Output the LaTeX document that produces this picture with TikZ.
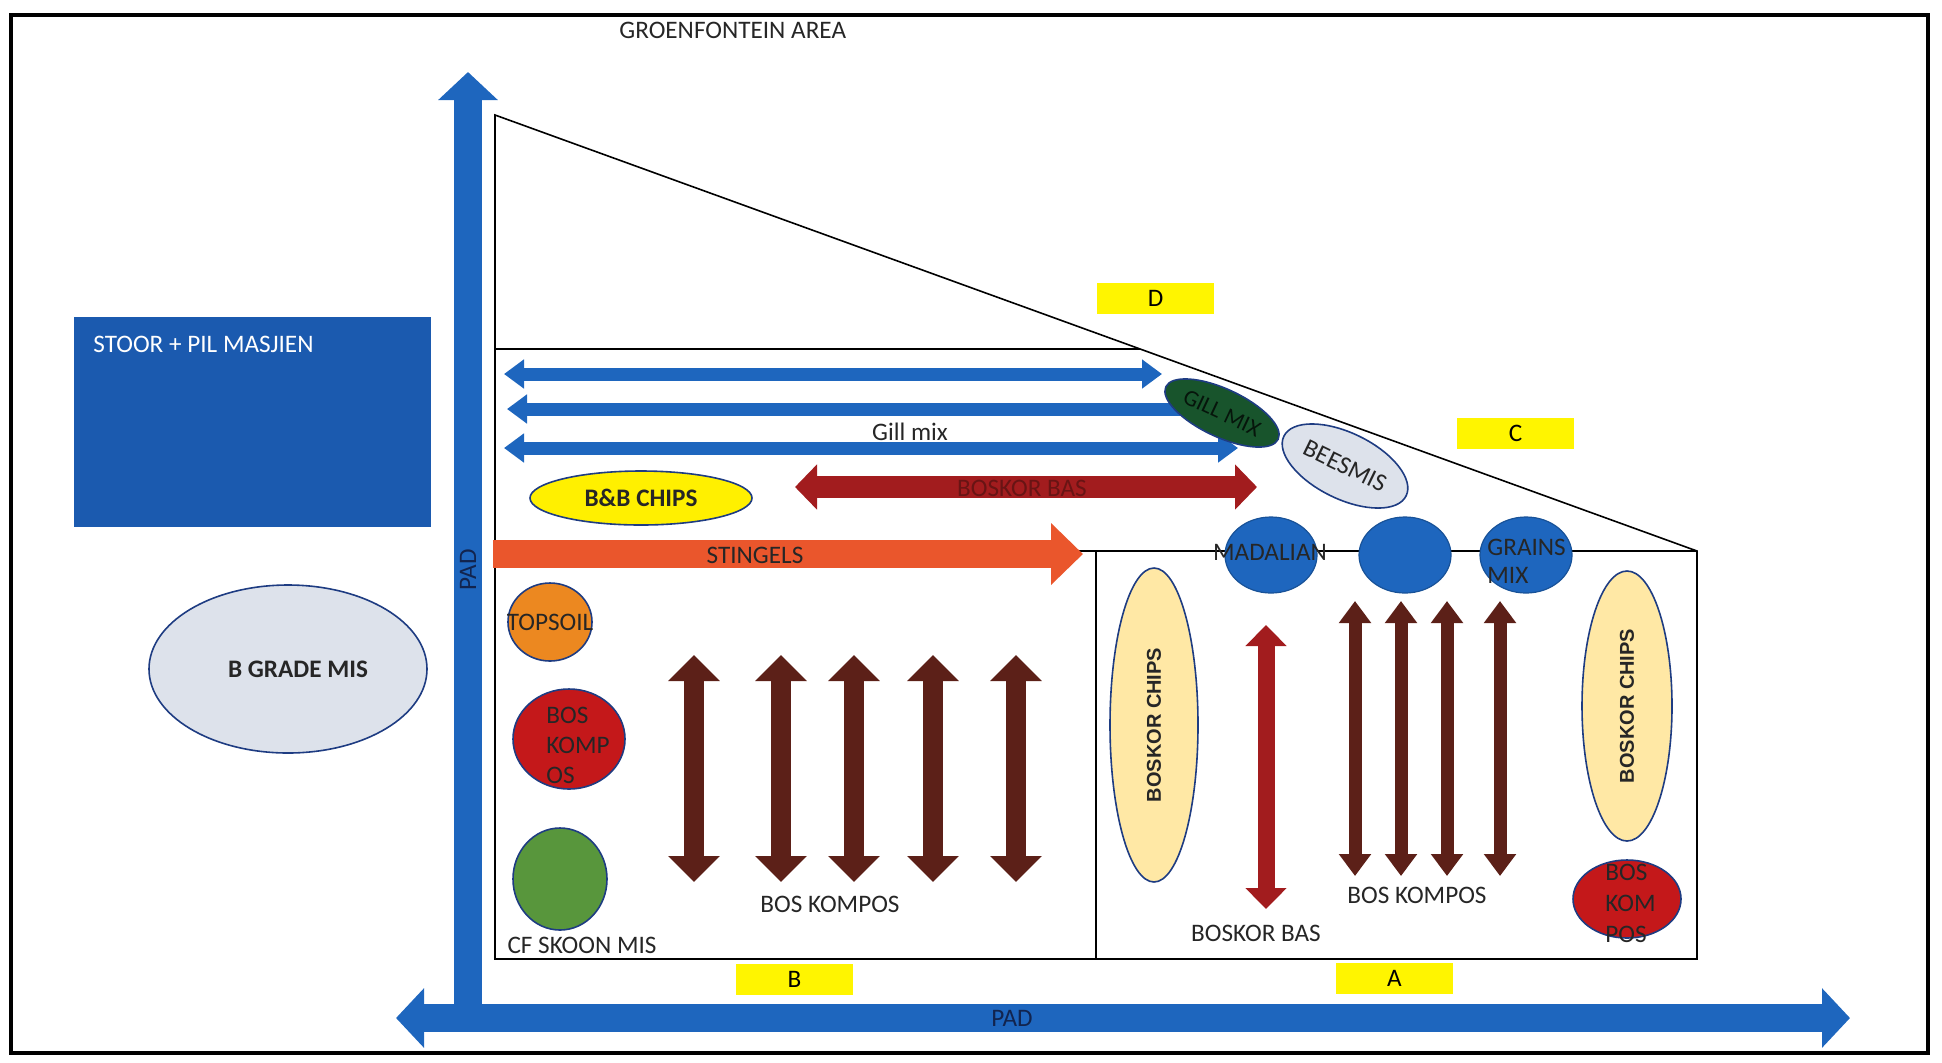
\documentclass[tikz,border=0pt]{standalone}
\usepackage{fontspec}
\setmainfont{Carlito}
\newfontfamily\chipsfont{Liberation Sans}
\usepackage{xcolor}
\usetikzlibrary{arrows.meta, shapes.geometric}

\definecolor{padblue}{RGB}{30,102,190}
\definecolor{stoorblue}{RGB}{27,90,175}
\definecolor{rimblue}{RGB}{30,60,130}
\definecolor{kompbrown}{RGB}{92,32,24}
\definecolor{basred}{RGB}{162,28,30}
\definecolor{basdark}{RGB}{105,20,20}
\definecolor{stingorange}{RGB}{234,86,44}
\definecolor{chipyellow}{RGB}{255,232,165}
\definecolor{bbyellow}{RGB}{255,240,0}
\definecolor{tagyellow}{RGB}{255,245,0}
\definecolor{misgray}{RGB}{221,226,235}
\definecolor{gillgreen}{RGB}{24,84,44}
\definecolor{skoongreen}{RGB}{88,150,60}
\definecolor{soilorange}{RGB}{236,136,32}
\definecolor{kompred}{RGB}{196,24,26}

\begin{document}
\begin{tikzpicture}[x=0.5pt, y=-0.5pt,
    lbl/.style={font=\fontsize{12.6}{15}\selectfont, inner sep=0pt, text=black!85},
    boldlbl/.style={lbl, font=\fontsize{12.6}{15}\selectfont\bfseries},
    chips/.style={text=black!85, font=\chipsfont\bfseries\fontsize{10}{12}\selectfont},
    heap/.style={ellipse, draw=rimblue, line width=0.8pt, inner sep=0pt},
    silo/.style={ellipse, fill=padblue, draw=padblue!80!black, line width=0.6pt, inner sep=0pt, minimum width=46pt, minimum height=38pt},
    tag/.style={fill=tagyellow, minimum width=58.5pt, minimum height=15.5pt, inner sep=0pt, font=\fontsize{12.6}{15}\selectfont},
    padtip/.tip={Triangle[width=29pt,length=14pt]},
    gilltip/.tip={Triangle[width=14pt,length=10pt]},
    bastip/.tip={Triangle[width=22pt,length=11pt]},
    stingtip/.tip={Triangle[width=30pt,length=16pt]},
    kbtip/.tip={Triangle[width=25pt,length=13pt]},
    katip/.tip={Triangle[width=15.5pt,length=11pt]},
    redtip/.tip={Triangle[width=20pt,length=10.5pt]},
    pad/.style={draw=padblue, line width=14pt},
    gill/.style={draw=padblue, line width=6.5pt},
    bas/.style={draw=basred, line width=11pt},
    sting/.style={draw=stingorange, line width=14pt},
    kompB/.style={draw=kompbrown, line width=10pt},
    kompA/.style={draw=kompbrown, line width=6.5pt},
    basA/.style={draw=basred, line width=8.5pt},
]
\useasboundingbox (0,0) rectangle (1942,1062);
\draw[line width=2pt] (11,15) rectangle (1928,1053);

\node[lbl, anchor=west] (area) at (619,30) {GROENFONTEIN AREA};

% stoor en B grade hoop
\node[fill=stoorblue, minimum width=178.5pt, minimum height=105pt, inner sep=0pt] (stoor) at (252.5,422) {};
\node[lbl, text=white, anchor=west] (stoortxt) at (93,344) {STOOR + PIL MASJIEN};
\node[heap, fill=misgray, minimum width=139pt, minimum height=84pt, boldlbl] (bgrade) at (288,669) {\hspace{10pt}B GRADE MIS};

% terrein
\draw[line width=0.8pt] (495,115) -- (1697,551) -- (1697,959) -- (495,959) -- cycle;
\draw[line width=0.8pt] (495,349) -- (1140,349);
\draw[line width=0.8pt] (495,551) -- (1697,551);
\draw[line width=0.8pt] (1096,551) -- (1096,959);

\node[tag] (tagD) at (1155.5,298.5) {D};
\node[tag] (tagC) at (1515.5,433) {C};
\node[tag] (tagB) at (794.5,979.5) {B};
\node[tag] (tagA) at (1394.5,978.5) {A};

% paaie
\coordinate (padN) at (468,72);
\coordinate (padS) at (468,1018);
\coordinate (padW) at (396,1018);
\coordinate (padE) at (1850,1018);
\draw[pad, -padtip] (padS) -- (padN);
\draw[pad, padtip-padtip] (padW) -- (padE);
\node[lbl, rotate=90, text=rimblue!60!black] (padV) at (468,570) {PAD};
\node[lbl, text=rimblue!60!black] (padH) at (1012,1018) {PAD};

% gill mix rye
\coordinate (g1w) at (504,374); \coordinate (g1e) at (1162,374);
\coordinate (g2w) at (507,409); \coordinate (g2e) at (1200,409);
\coordinate (g3w) at (504,448); \coordinate (g3e) at (1238,448);
\draw[gill, gilltip-gilltip] (g1w) -- (g1e);
\draw[gill, gilltip-] (g2w) -- (g2e);
\draw[gill, gilltip-gilltip] (g3w) -- (g3e);
\node[lbl] (gilltxt) at (910,432) {Gill mix};

\node[heap, fill=gillgreen, minimum width=62pt, minimum height=24pt, rotate=-25,
      font=\fontsize{11.5}{13}\selectfont, text=black!75!gillgreen] (gill) at (1222,413) {GILL MIX};
\node[heap, fill=misgray, minimum width=68pt, minimum height=33pt, rotate=-26,
      lbl] (bees) at (1345,466) {BEESMIS};

\coordinate (bw) at (795,487); \coordinate (be) at (1257,487);
\draw[bas, bastip-bastip] (bw) -- (be);
\node[lbl, text=basdark] (bastxt) at (1022,488) {BOSKOR BAS};

\node[heap, fill=bbyellow, minimum width=111pt, minimum height=27pt, boldlbl] (bb) at (641,498) {B\&B CHIPS};

% stingels
\coordinate (sw) at (493,554); \coordinate (se) at (1083,554);
\draw[sting, -stingtip] (sw) -- (se);
\node[lbl] (stingtxt) at (755,555) {STINGELS};

% silos
\node[silo] (mad) at (1271,555) {};
\node[lbl] at (1270,552) {MADALIAN};
\node[silo] (mid) at (1405,555) {};
\node[silo] (grains) at (1526,555) {};
\node[lbl, align=left, anchor=west, font=\fontsize{12.6}{14}\selectfont] at (1487,561) {GRAINS\\MIX};

% B blok
\node[heap, fill=soilorange, minimum width=42pt, minimum height=39pt] (soil) at (550,622) {};
\node[lbl] at (soil) {TOPSOIL};
\node[heap, fill=kompred, minimum width=56pt, minimum height=50pt] (kompBh) at (569,739) {};
\node[lbl, align=left, anchor=west] at (546,745) {BOS\\KOMP\\OS};
\node[heap, fill=skoongreen, minimum width=47pt, minimum height=51pt] (skoon) at (560,879) {};
\node[lbl] (skoontxt) at (582,945) {CF SKOON MIS};
\foreach \x in {694,781,854,933,1016}
  \draw[kompB, kbtip-kbtip] (\x,655) -- (\x,882);
\node[lbl] (kompBtxt) at (830,904) {BOS KOMPOS};

% A blok
\node[heap, fill=chipyellow, minimum width=157pt, minimum height=44pt, rotate=90, chips] (chipsL) at (1154,725) {BOSKOR CHIPS};
\node[heap, fill=chipyellow, minimum width=135pt, minimum height=45pt, rotate=90, chips] (chipsR) at (1627,706) {BOSKOR CHIPS};
\draw[basA, redtip-redtip] (1266,625) -- (1266,909);
\node[lbl] (basAtxt) at (1256,933) {BOSKOR BAS};
\foreach \x in {1355,1401,1447,1500}
  \draw[kompA, katip-katip] (\x,601) -- (\x,876);
\node[lbl] (kompAtxt) at (1417,895) {BOS KOMPOS};
\node[heap, fill=kompred, minimum width=54pt, minimum height=39pt] (kompAh) at (1627,899) {};
\node[lbl, align=left, anchor=west, font=\fontsize{12.6}{15.5}\selectfont] at (1605,903) {BOS\\KOM\\POS};
\end{tikzpicture}
\end{document}
